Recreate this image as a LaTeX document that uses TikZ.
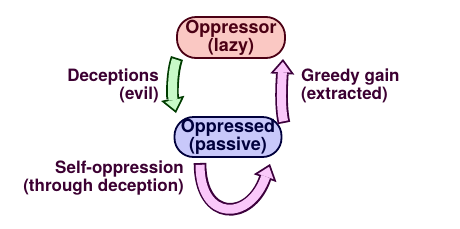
\documentclass[tikz,border=0pt]{standalone}
\usepackage{fontspec}
\setmainfont{TeX Gyre Heros}
\usetikzlibrary{arrows.meta}

\definecolor{inkpurple}{RGB}{60,0,50}
\definecolor{lazyfill}{RGB}{250,200,195}
\definecolor{lazyedge}{RGB}{75,0,20}
\definecolor{passfill}{RGB}{200,200,250}
\definecolor{passedge}{RGB}{0,0,60}
\definecolor{evilfill}{RGB}{200,250,200}
\definecolor{eviledge}{RGB}{0,60,0}
\definecolor{gainfill}{RGB}{250,200,250}
\definecolor{gainedge}{RGB}{60,0,60}

\begin{document}
\begin{tikzpicture}[x=1pt, y=-1pt,
  party/.style={rectangle, rounded corners=19pt, draw, line width=1.8pt, inner sep=0pt,
    minimum width=108pt, minimum height=41pt, align=center,
    font=\fontsize{18}{16.5}\selectfont\bfseries},
  fatedge/.style={line width=12.6pt, -{Triangle[width=24pt,length=15pt,line width=0pt]}},
  fatfill/.style={line width=9pt, shorten <=1.8pt, shorten >=2.9pt,
    -{Triangle[width=16.5pt,length=10.3pt,line width=0pt]}}]

\fill [white] (0,0) rectangle (460,228);

\node [party, fill=lazyfill, draw=lazyedge, text=lazyedge] (oppressor) at (231,37.5) {Oppressor\\(lazy)};
\node [party, fill=passfill, draw=passedge, text=passedge, minimum width=107pt, minimum height=40pt] (oppressed) at (228,137) {Oppressed\\(passive)};

\begin{scope}[every node/.style={font=\fontsize{17}{18.5}\selectfont\bfseries, text=inkpurple, inner sep=0pt}]
\node [anchor=east, align=right] (deceit) at (159,86) {Deceptions\\(evil)};
\node [anchor=west, align=left] (greed) at (301,86) {Greedy gain\\(extracted)};
\node [anchor=east, align=right] (selfop) at (184,178) {Self-oppression\\(through deception)};
\end{scope}

\coordinate (evilA) at (177,58);
\coordinate (evilB) at (176,113);
\coordinate (gainA) at (284,123);
\coordinate (gainB) at (283,59);
\coordinate (selfA) at (200,163);
\coordinate (selfB) at (270,164);

\draw [fatedge, eviledge] (evilA) .. controls (172,72) and (172,95) .. (evilB);
\draw [fatfill, evilfill] (evilA) .. controls (172,72) and (172,95) .. (evilB);
\draw [fatedge, gainedge] (gainA) .. controls (280,105) and (282,80) .. (gainB);
\draw [fatfill, gainfill] (gainA) .. controls (280,105) and (282,80) .. (gainB);
\draw [fatedge, gainedge] (selfA) .. controls (200,222) and (250,222) .. (selfB);
\draw [fatfill, gainfill] (selfA) .. controls (200,222) and (250,222) .. (selfB);
\end{tikzpicture}
\end{document}
